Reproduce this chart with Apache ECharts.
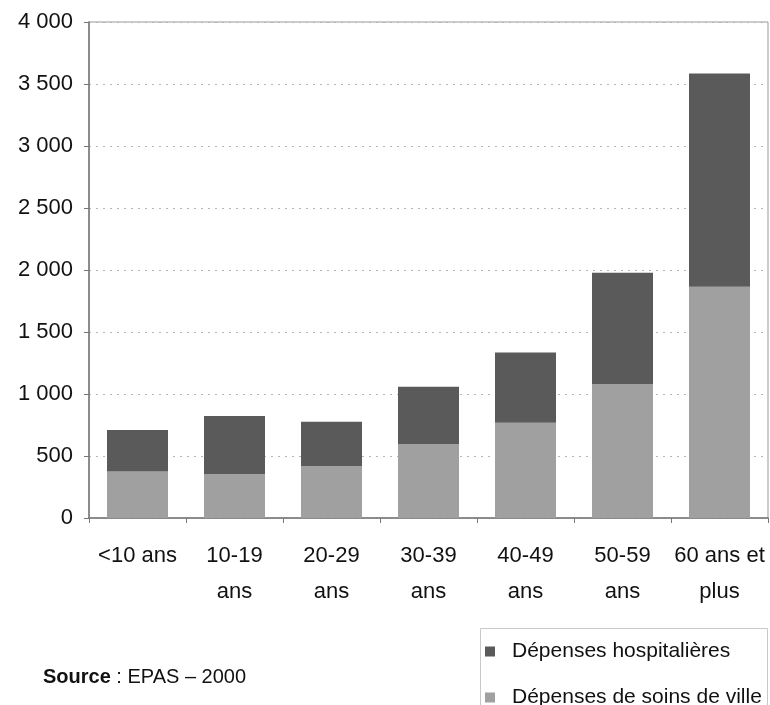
<!DOCTYPE html>
<html>
<head>
<meta charset="utf-8">
<script src="https://cdn.jsdelivr.net/npm/echarts@6/dist/echarts.min.js"></script>
<style>
  html, body { margin: 0; padding: 0; background: #fff; }
  #chart { width: 770px; height: 705px; }
</style>
</head>
<body>
<div id="chart"></div>
<script>
// 年龄组
var categories = ['<10 ans', '10-19\nans', '20-29\nans', '30-39\nans', '40-49\nans', '50-59\nans', '60 ans et\nplus'];
// 城市医疗支出（下层）
var soinsVille = [375, 352, 419, 594, 768, 1080, 1864];
// 住院支出（上层）
var hospitalieres = [335, 470, 357, 464, 567, 897, 1720];

var font = 'Liberation Sans, Arial, sans-serif';

var myChart = echarts.init(document.getElementById('chart'));

// 图例公共样式
function legendAt(top, name) {
    return {
        orient: 'vertical',
        left: 485,
        top: top,
        padding: 0,
        itemWidth: 10,
        itemHeight: 10,
        icon: 'rect',
        data: [name],
        textStyle: { fontSize: 21, color: '#111', fontFamily: font, padding: [0, 0, 0, 12] }
    };
}

var option = {
    backgroundColor: '#fff',
    animation: false,
    textStyle: { fontFamily: font },
    grid: {
        left: 89, right: 2, top: 22, bottom: 187,
        show: true,
        borderColor: '#999',
        borderWidth: 1
    },
    legend: [
        legendAt(641, 'Dépenses hospitalières'),
        legendAt(687, 'Dépenses de soins de ville')
    ],
    graphic: [{
        type: 'rect',
        shape: { x: 480.5, y: 628.5, width: 287, height: 100 },
        style: { fill: null, stroke: '#c8c8c8', lineWidth: 1 },
        silent: true
    }, {
        type: 'text',
        left: 43,
        top: 667,
        style: {
            text: '{b|Source} : EPAS – 2000',
            rich: { b: { fontWeight: 'bold', fontSize: 20, fontFamily: font, fill: '#111' } },
            fontSize: 20,
            fontFamily: font,
            fill: '#111'
        }
    }],
    xAxis: {
        type: 'category',
        data: categories,
        axisLine: { lineStyle: { color: '#777', width: 1.5 } },
        axisTick: { show: true, length: 5, lineStyle: { color: '#777' } },
        axisLabel: {
            interval: 0,
            margin: 20,
            fontSize: 22,
            lineHeight: 36,
            color: '#111',
            fontFamily: font
        }
    },
    yAxis: {
        type: 'value',
        min: 0,
        max: 4000,
        interval: 500,
        axisLine: { show: true, lineStyle: { color: '#777', width: 1.5 } },
        axisTick: { show: true, length: 5, lineStyle: { color: '#777' } },
        splitLine: { lineStyle: { color: '#b5b5b5', type: [2, 5], width: 1 } },
        axisLabel: {
            margin: 16,
            fontSize: 22,
            color: '#111',
            fontFamily: font,
            formatter: function (v) {
                return String(v).replace(/\B(?=(\d{3})+(?!\d))/g, ' ');
            }
        }
    },
    series: [{
        name: 'Dépenses de soins de ville',
        type: 'bar',
        stack: 'total',
        barWidth: 61,
        itemStyle: { color: '#a0a0a0' },
        data: soinsVille
    }, {
        name: 'Dépenses hospitalières',
        type: 'bar',
        stack: 'total',
        barWidth: 61,
        itemStyle: { color: '#5a5a5a' },
        data: hospitalieres
    }]
};

myChart.setOption(option);
</script>
</body>
</html>
